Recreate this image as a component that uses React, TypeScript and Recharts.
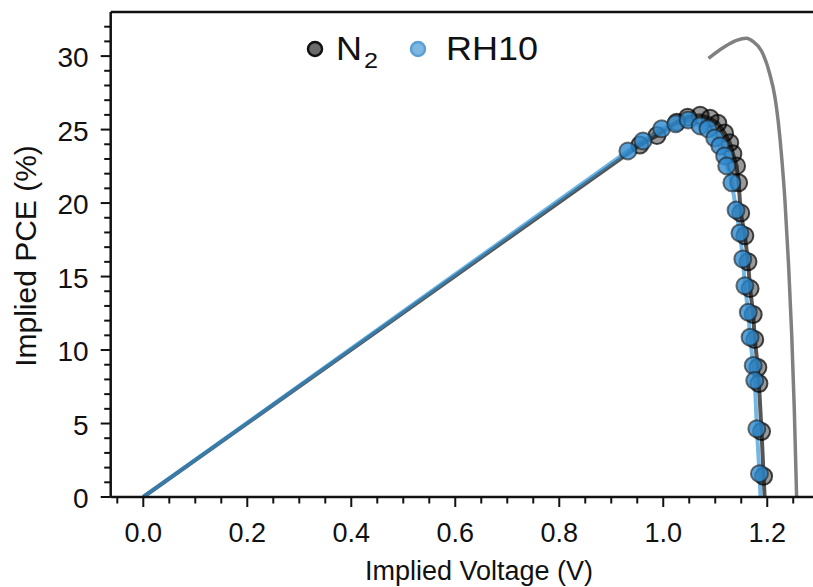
import React from "react";
import {
  ComposedChart,
  Line,
  Scatter,
  XAxis,
  YAxis,
  ReferenceLine,
} from "recharts";

// implied JV -> PCE, markers
const n2V = [
  0.955, 0.988, 1.026, 1.047, 1.071, 1.09, 1.105, 1.118, 1.128, 1.134, 1.141,
  1.145, 1.149, 1.157, 1.163, 1.167, 1.173, 1.176, 1.182, 1.184, 1.189, 1.193,
];
const n2Pce = [
  23.95, 24.6, 25.5, 25.84, 25.97, 25.77, 25.43, 24.77, 24.1, 23.35, 22.53,
  21.38, 19.33, 17.78, 16.01, 14.18, 12.42, 10.71, 8.81, 7.72, 4.46, 1.41,
];
const rh10V = [
  0.932, 0.961, 0.997, 1.024, 1.048, 1.071, 1.086, 1.099, 1.109, 1.118, 1.122,
  1.132, 1.14, 1.1475, 1.153, 1.157, 1.1635, 1.167, 1.173, 1.176, 1.18, 1.185,
];
const rh10Pce = [
  23.55, 24.23, 25.05, 25.39, 25.66, 25.25, 25.05, 24.43, 23.89, 23.21, 22.53,
  21.38, 19.52, 17.96, 16.2, 14.38, 12.57, 10.87, 8.95, 7.93, 4.65, 1.59,
];

// line ends (origin and zero-power crossing)
const n2LineEnds = { v: [0, 1.195], pce: [0, 0] };
const rh10LineEnds = { v: [0, 1.187], pce: [0, 0] };

// grey limiting curve on the right
const idealV = [
  1.087, 1.115, 1.141, 1.16, 1.173, 1.189, 1.205, 1.215, 1.221, 1.228, 1.234,
  1.241, 1.247, 1.252, 1.2565,
];
const idealPce = [
  29.85, 30.57, 31.07, 31.21, 30.98, 30.35, 28.76, 27.17, 25.59, 23.0, 20.2,
  15.8, 11.1, 6.0, 0,
];

const xMajorTicks = [0, 0.2, 0.4, 0.6, 0.8, 1.0, 1.2];
const xMinorTicks = [
  -0.05, 0.05, 0.1, 0.15, 0.25, 0.3, 0.35, 0.45, 0.5, 0.55, 0.65, 0.7, 0.75,
  0.85, 0.9, 0.95, 1.05, 1.1, 1.15, 1.25,
];
const yMajorTicks = [0, 5, 10, 15, 20, 25, 30];
const yMinorTicks = [
  1, 2, 3, 4, 6, 7, 8, 9, 11, 12, 13, 14, 16, 17, 18, 19, 21, 22, 23, 24, 26,
  27, 28, 29, 31, 32,
];

const pts = (v: number[], p: number[]) => v.map((x, i) => ({ v: x, pce: p[i] }));

const n2Points = pts(n2V, n2Pce);
const rh10Points = pts(rh10V, rh10Pce);
const n2Line = [
  { v: n2LineEnds.v[0], pce: n2LineEnds.pce[0] },
  ...n2Points,
  { v: n2LineEnds.v[1], pce: n2LineEnds.pce[1] },
];
const rh10Line = [
  { v: rh10LineEnds.v[0], pce: rh10LineEnds.pce[0] },
  ...rh10Points,
  { v: rh10LineEnds.v[1], pce: rh10LineEnds.pce[1] },
];
const idealLine = pts(idealV, idealPce);

const FONT = '"Liberation Sans", Arial, sans-serif';
const INK = "#111";

const isIn = (arr: number[], v: number) => arr.some((t) => Math.abs(t - v) < 1e-6);

const XTick = (props: any) => {
  const { x, y, payload } = props;
  const major = isIn(xMajorTicks, payload.value);
  return (
    <g>
      <line x1={x} x2={x} y1={y} y2={y + (major ? 10 : 6.5)} stroke={INK} strokeWidth={2} />
      {major && (
        <text x={x} y={y + 45} textAnchor="middle" fontSize={27} fontFamily={FONT} fill={INK}>
          {payload.value.toFixed(1)}
        </text>
      )}
    </g>
  );
};

const YTick = (props: any) => {
  const { x, y, payload } = props;
  const major = isIn(yMajorTicks, payload.value);
  return (
    <g>
      <line x1={x} x2={x - (major ? 10 : 6.5)} y1={y} y2={y} stroke={INK} strokeWidth={2} />
      {major && (
        <text x={x - 22} y={y + 11} textAnchor="end" fontSize={28} fontFamily={FONT} fill={INK}>
          {payload.value}
        </text>
      )}
    </g>
  );
};

const N2Dot = (p: any) => (
  <circle
    cx={p.cx}
    cy={p.cy}
    r={8.5}
    fill="#000"
    fillOpacity={0.4}
    stroke="#000"
    strokeOpacity={0.7}
    strokeWidth={2}
  />
);

const RhDot = (p: any) => (
  <circle
    cx={p.cx}
    cy={p.cy}
    r={8.5}
    fill="#2e8bd0"
    fillOpacity={0.8}
    stroke="#1a1a1a"
    strokeOpacity={0.6}
    strokeWidth={2}
  />
);

export default function App() {
  const xTicks = [...xMajorTicks, ...xMinorTicks].sort((a, b) => a - b);
  const yTicks = [...yMajorTicks, ...yMinorTicks].sort((a, b) => a - b);
  return (
    <div
      style={{
        position: "absolute",
        left: 0,
        top: 0,
        width: 813,
        height: 587,
        background: "#fff",
        overflow: "hidden",
      }}
    >
      <ComposedChart
        width={813}
        height={587}
        margin={{ top: 12, right: 0, bottom: 30, left: 10.7 }}
      >
        <XAxis
          dataKey="v"
          type="number"
          domain={[-0.0627, 1.288]}
          allowDataOverflow
          ticks={xTicks}
          interval={0}
          tickSize={0}
          tickMargin={0}
          tickLine={false}
          tick={(p: any) => <XTick {...p} />}
          axisLine={{ stroke: INK, strokeWidth: 2.5 }}
          height={60}
        />
        <YAxis
          dataKey="pce"
          type="number"
          domain={[0, 33]}
          allowDataOverflow
          ticks={yTicks}
          interval={0}
          tickSize={0}
          tickMargin={0}
          tickLine={false}
          tick={(p: any) => <YTick {...p} />}
          axisLine={{ stroke: INK, strokeWidth: 2.5 }}
          width={100}
        />
        <ReferenceLine y={33} stroke={INK} strokeWidth={2.5} />
        <Line
          data={n2Line}
          dataKey="pce"
          type="linear"
          stroke="#555"
          strokeWidth={4}
          dot={false}
          activeDot={false}
          isAnimationActive={false}
        />
        <Scatter data={n2Points} dataKey="pce" shape={N2Dot} isAnimationActive={false} />
        <Line
          data={rh10Line}
          dataKey="pce"
          type="linear"
          stroke="#2b8fd4"
          strokeOpacity={0.65}
          strokeWidth={4}
          dot={false}
          activeDot={false}
          isAnimationActive={false}
        />
        <Scatter data={rh10Points} dataKey="pce" shape={RhDot} isAnimationActive={false} />
        <Line
          data={idealLine}
          dataKey="pce"
          type="monotone"
          stroke="#808080"
          strokeWidth={3.5}
          dot={false}
          activeDot={false}
          isAnimationActive={false}
        />
      </ComposedChart>
      <svg
        width={813}
        height={587}
        style={{ position: "absolute", left: 0, top: 0, pointerEvents: "none" }}
        fontFamily={FONT}
        fill={INK}
      >
        <circle cx={315} cy={49} r={7} fill="#6b6b6b" stroke={INK} strokeWidth={2.5} />
        <text x={336} y={60} fontSize={33} textLength={26} lengthAdjust="spacingAndGlyphs">
          N
        </text>
        <text x={364} y={68} fontSize={22} textLength={14} lengthAdjust="spacingAndGlyphs">
          2
        </text>
        <circle cx={418} cy={49} r={7} fill="#7db6e0" stroke="#5aa0d6" strokeWidth={2.5} />
        <text x={446} y={60} fontSize={33} textLength={92} lengthAdjust="spacingAndGlyphs">
          RH10
        </text>
        <text x={479} y={580} fontSize={27} textAnchor="middle">
          Implied Voltage (V)
        </text>
        <text x={36} y={256} fontSize={30} textAnchor="middle" transform="rotate(-90, 36, 256)">
          Implied PCE (%)
        </text>
      </svg>
    </div>
  );
}
